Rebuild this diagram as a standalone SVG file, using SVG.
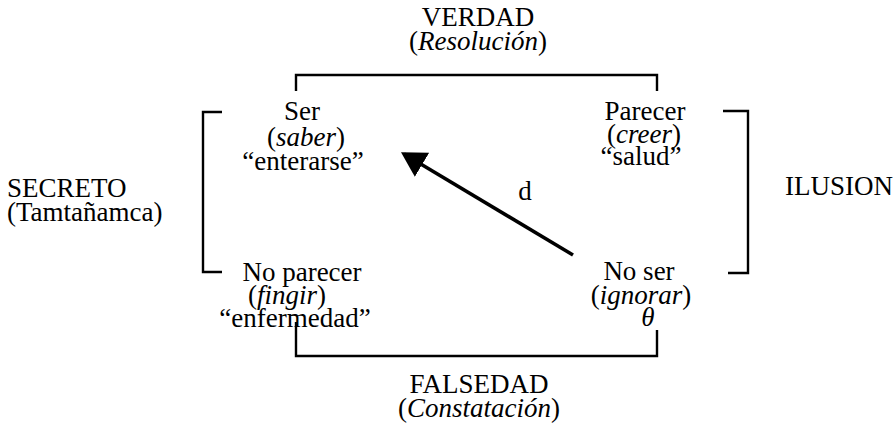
<svg xmlns="http://www.w3.org/2000/svg" width="895" height="430" viewBox="0 0 895 430">
<style>
text{font-family:"Liberation Serif","Times New Roman",serif;font-size:27px;fill:#000}
.c{text-anchor:middle}
.i{font-style:italic}
.ln{fill:none;stroke:#000;stroke-width:2.4}
.ar{fill:none;stroke:#000;stroke-width:3.5}
</style>
<defs>
<marker id="ah" markerWidth="8" markerHeight="8" refX="6" refY="4" orient="auto" markerUnits="strokeWidth">
<path d="M0,0 L7,4 L0,8 Z" fill="#000"/>
</marker>
</defs>
<rect width="895" height="430" fill="#fff"/>
<g id="verdad"><text class="c" x="478" y="26">VERDAD</text><text class="c" x="478" y="50">(<tspan class="i">Resolución</tspan>)</text></g>
<g id="falsedad"><text class="c" x="479" y="393">FALSEDAD</text><text class="c" x="479" y="417">(<tspan class="i">Constatación</tspan>)</text></g>
<g id="secreto"><text x="7" y="197">SECRETO</text><text x="7" y="221">(Tamtañamca)</text></g>
<g id="ilusion"><text x="785" y="195">ILUSION</text></g>
<g id="ser"><text class="c" x="302" y="120">Ser</text><text class="c" x="306" y="146">(<tspan class="i">saber</tspan>)</text><text class="c" x="303" y="170">“enterarse”</text></g>
<g id="parecer"><text class="c" x="645" y="120">Parecer</text><text class="c" x="644" y="143">(<tspan class="i">creer</tspan>)</text><text class="c" x="641" y="165">“salud”</text></g>
<g id="noparecer"><text class="c" x="302" y="281">No parecer</text><text class="c" x="287" y="304">(<tspan class="i">fingir</tspan>)</text><text class="c" x="295" y="327">“enfermedad”</text></g>
<g id="noser"><text class="c" x="639" y="280">No ser</text><text class="c" x="641" y="304">(<tspan class="i">ignorar</tspan>)</text><text class="c i" x="648" y="326">θ</text></g>
<g id="d"><text class="c" x="525" y="200">d</text></g>
<g id="connectors">
<path class="ln" d="M296,91 V75 H657 V91"/>
<path class="ln" d="M222,112 H203 V272 H222"/>
<path class="ln" d="M723,111 H748 V273 H728"/>
<path class="ln" d="M296,322 V356 H657 V330"/>
<line class="ar" x1="573" y1="255" x2="404" y2="154" marker-end="url(#ah)"/>
</g>
</svg>
